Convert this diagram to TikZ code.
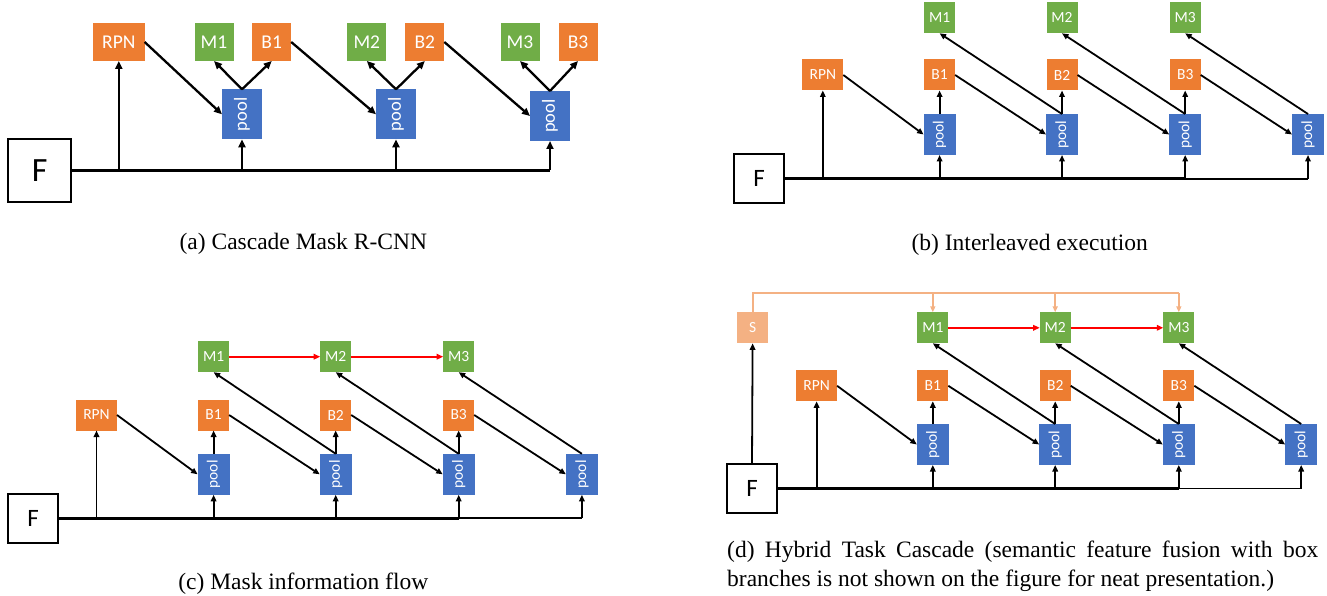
\documentclass[tikz,border=0pt]{standalone}
\usepackage{fontspec}
\usepackage{graphicx}
\setmainfont{Liberation Serif}
\newfontfamily\calfont{Carlito}
\usetikzlibrary{arrows.meta}
\definecolor{org}{HTML}{ED7D31}
\definecolor{grn}{HTML}{70AD47}
\definecolor{blu}{HTML}{4472C4}
\definecolor{sal}{HTML}{F4B183}
\definecolor{redc}{HTML}{FF0000}
\begin{document}
\begin{tikzpicture}[x=1pt,y=-1pt,
  box/.style={inner sep=0pt, outer sep=0pt, text=white, font=\calfont\fontsize{15.5}{16}\selectfont, minimum width=31pt, minimum height=31pt},
  ob/.style={box, fill=org},
  gb/.style={box, fill=grn},
  sb/.style={box, fill=sal},
  pb/.style={box, fill=blu, minimum width=32pt, minimum height=41pt},
  fb/.style={draw=black, line width=1.8pt, inner sep=0pt, outer sep=0pt, font=\calfont\fontsize{25}{25}\selectfont, minimum width=49.5pt, minimum height=49pt},
  abox/.style={font=\calfont\fontsize{19.5}{20}\selectfont, minimum width=39pt, minimum height=38pt},
  apool/.style={font=\calfont\fontsize{18.5}{19}\selectfont, minimum width=40pt, minimum height=50pt},
  arrA/.style={-{Triangle[length=8pt,width=7pt]}, line width=2.3pt},
  arrB/.style={-{Triangle[length=6.5pt,width=5.5pt]}, line width=1.8pt},
  busA/.style={line width=3.5pt},
  busAthin/.style={line width=2.3pt},
  busB/.style={line width=3pt},
  busBthin/.style={line width=1.8pt},
  rarr/.style={-{Triangle[length=6.5pt,width=5.5pt]}, line width=2pt, draw=redc},
  sline/.style={line width=2pt, draw=sal},
  sarr/.style={-{Triangle[length=6pt,width=5pt]}, line width=2pt, draw=sal},
  captxt/.style={inner sep=0pt, anchor=base, font=\fontsize{23.5}{29}\selectfont},
  line join=miter
]
\useasboundingbox (0,0) rectangle (1327,596);

% ================= (a) =================
\node[ob, abox, minimum width=51.7pt] (a-RPN) at (118.8,42) {RPN};
\node[gb, abox] (a-M1) at (214,42) {M1};
\node[ob, abox] (a-B1) at (271.7,42) {B1};
\node[gb, abox] (a-M2) at (366.8,42) {M2};
\node[ob, abox] (a-B2) at (424.8,42) {B2};
\node[gb, abox] (a-M3) at (520,42) {M3};
\node[ob, abox] (a-B3) at (578,42) {B3};
\node[pb, apool] (a-P1) at (242,114.3) {\rotatebox{90}{pool}};
\node[pb, apool] (a-P2) at (396,114.3) {\rotatebox{90}{pool}};
\node[pb, apool] (a-P3) at (550,116) {\rotatebox{90}{pool}};
\node[fb, line width=2pt, minimum width=62.7pt, minimum height=62.4pt, font=\calfont\fontsize{34}{34}\selectfont] (a-F) at (39.7,170.5) {F};

\draw[busA] (a-F.east) -- (a-P2 |- a-F.east);
\draw[busAthin] (a-P2 |- a-F.east) -- (a-P3 |- a-F.east);
\foreach \n in {RPN,P1,P2,P3} \draw[arrA] (a-\n |- a-F.east) -- (a-\n.south);
\draw[arrA] (a-RPN.east) -- (a-P1.west);
\draw[arrA] (a-B1.east) -- (a-P2.west);
\draw[arrA] (a-B2.east) -- (a-P3.west);
\foreach \i in {1,2,3} {
  \draw[arrA] (a-P\i.north) -- (a-M\i.south);
  \draw[arrA] (a-P\i.north) -- (a-B\i.south);
}
\node[captxt] (a-cap) at (303.3,249) {(a) Cascade Mask R-CNN};

% ================= (b) =================
\node[ob, minimum width=41pt] (b-RPN) at (822.8,75) {RPN};
\foreach \i/\x in {1/939.6,2/1062,3/1185.2} {
  \node[ob] (b-B\i) at (\x,75) {B\i};
  \node[gb] (b-M\i) at (\x,17.8) {M\i};
}
\foreach \i/\x in {1/939.6,2/1062,3/1185.2,4/1308}
  \node[pb] (b-P\i) at (\x,134.5) {\rotatebox{90}{pool}};
\node[fb] (b-F) at (759,178.7) {F};

\draw[busB] (b-F.east) -- (b-P3 |- b-F.east);
\draw[busBthin] (b-P3 |- b-F.east) -- (b-P4 |- b-F.east);
\foreach \n in {RPN,P1,P2,P3,P4} \draw[arrB] (b-\n |- b-F.east) -- (b-\n.south);
\draw[arrB] (b-RPN.east) -- (b-P1.west);
\foreach \i/\j in {1/2,2/3,3/4} {
  \draw[arrB] (b-P\i.north) -- (b-B\i.south);
  \draw[arrB] (b-B\i.east) -- (b-P\j.west);
  \draw[arrB] (b-P\j.north) -- (b-M\i.south);
}
\node[captxt] (b-cap) at (1029.7,250) {(b) Interleaved execution};

% ================= (c) =================
\node[ob, minimum width=41pt] (c-RPN) at (96.5,415) {RPN};
\foreach \i/\x in {1/213.6,2/335.7,3/458.7} {
  \node[ob] (c-B\i) at (\x,415) {B\i};
  \node[gb] (c-M\i) at (\x,356.7) {M\i};
}
\foreach \i/\x in {1/213.6,2/335.7,3/458.7,4/581.9}
  \node[pb] (c-P\i) at (\x,474.3) {\rotatebox{90}{pool}};
\node[fb] (c-F) at (33,518.3) {F};

\draw[busB] (c-F.east) -- (c-P3 |- c-F.east);
\draw[busBthin] (c-P3 |- c-F.east) -- (c-P4 |- c-F.east);
\foreach \n in {RPN,P1,P2,P3,P4} \draw[arrB] (c-\n |- c-F.east) -- (c-\n.south);
\draw[arrB] (c-RPN.east) -- (c-P1.west);
\foreach \i/\j in {1/2,2/3,3/4} {
  \draw[arrB] (c-P\i.north) -- (c-B\i.south);
  \draw[arrB] (c-B\i.east) -- (c-P\j.west);
  \draw[arrB] (c-P\j.north) -- (c-M\i.south);
}
\draw[rarr] (c-M1.east) -- (c-M2.west);
\draw[rarr] (c-M2.east) -- (c-M3.west);
\node[captxt] (c-cap) at (303.3,589) {(c) Mask information flow};

% ================= (d) =================
\node[sb] (d-S) at (752.6,327.8) {S};
\node[ob, minimum width=41pt] (d-RPN) at (816.6,385.8) {RPN};
\foreach \i/\x in {1/932.8,2/1055.2,3/1178.8} {
  \node[ob] (d-B\i) at (\x,385.8) {B\i};
  \node[gb] (d-M\i) at (\x,327.8) {M\i};
}
\foreach \i/\x in {1/932.8,2/1055.2,3/1178.8,4/1301.2}
  \node[pb] (d-P\i) at (\x,444.5) {\rotatebox{90}{pool}};
\node[fb] (d-F) at (752,488.5) {F};

\draw[busB] (d-F.east) -- (d-P3 |- d-F.east);
\draw[busBthin] (d-P3 |- d-F.east) -- (d-P4 |- d-F.east);
\foreach \n in {RPN,P1,P2,P3,P4} \draw[arrB] (d-\n |- d-F.east) -- (d-\n.south);
\draw[arrB] (d-F.north) -- (d-S.south);
\draw[arrB] (d-RPN.east) -- (d-P1.west);
\foreach \i/\j in {1/2,2/3,3/4} {
  \draw[arrB] (d-P\i.north) -- (d-B\i.south);
  \draw[arrB] (d-B\i.east) -- (d-P\j.west);
  \draw[arrB] (d-P\j.north) -- (d-M\i.south);
}
\draw[rarr] (d-M1.east) -- (d-M2.west);
\draw[rarr] (d-M2.east) -- (d-M3.west);
\coordinate (d-top) at (752.6,293.3);
\draw[sline] (d-S.north) |- (d-M3 |- d-top);
\foreach \i in {1,2,3} \draw[sarr] (d-M\i |- d-top) -- (d-M\i.north);
\node[captxt, anchor=base west] (d-cap1) at (727,557) {\makebox[591pt][s]{(d) Hybrid Task Cascade (semantic feature fusion with box}};
\node[captxt, anchor=base west] (d-cap2) at (727,586) {branches is not shown on the figure for neat presentation.)};
\end{tikzpicture}
\end{document}
